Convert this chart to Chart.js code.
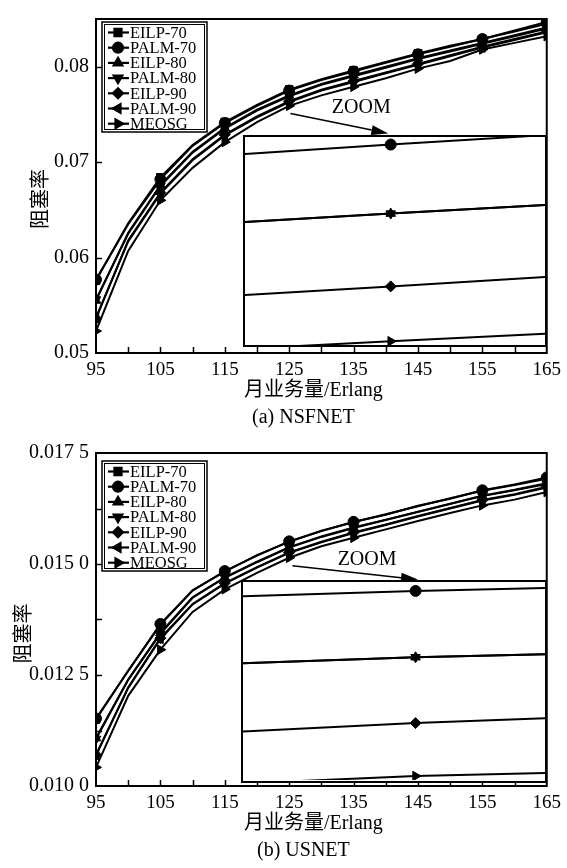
<!DOCTYPE html>
<html>
<head>
<meta charset="utf-8">
<script src="https://cdn.jsdelivr.net/npm/chart.js@4.4.1/dist/chart.umd.min.js"></script>
<style>
  body { margin: 0; background: #fff; }
  #page { position: relative; width: 567px; height: 868px; }
  .panel { position: absolute; left: 0; width: 567px; height: 434px; }
  .inset { position: absolute; border: 2px solid #000; box-sizing: border-box; background: #fff; }
  canvas { display: block; }
</style>
</head>
<body>
<div id="page">
  <div class="panel" style="top:0">
    <canvas id="nsfnet" width="567" height="434"></canvas>
    <div class="inset" id="nsfnetBox"><canvas id="nsfnetZoom"></canvas></div>
  </div>
  <div class="panel" style="top:434px">
    <canvas id="usnet" width="567" height="434"></canvas>
    <div class="inset" id="usnetBox"><canvas id="usnetZoom"></canvas></div>
  </div>
</div>
<script>
// traffic load (Erlang)
const loads = [95, 100, 105, 110, 115, 120, 125, 130, 135, 140, 145, 150, 155, 160, 165];
const markedLoadsA = [95, 105, 115, 125, 135, 145, 155, 165];
const markedLoadsB = [95, 105, 115, 125, 135, 155, 165];
const seriesNames = ['EILP-70', 'PALM-70', 'EILP-80', 'PALM-80', 'EILP-90', 'PALM-90', 'MEOSG'];

// (a) NSFNET blocking rate
const eilp70A = [0.0576, 0.0636, 0.0684, 0.0718, 0.0742, 0.0760, 0.0776, 0.0787, 0.0796, 0.0805, 0.0814, 0.0822, 0.0829, 0.0837, 0.0845];
const palm70A = [0.0577, 0.0635, 0.0682, 0.0717, 0.0741, 0.0759, 0.0775, 0.0786, 0.0795, 0.0804, 0.0813, 0.0821, 0.0829, 0.0838, 0.0847];
const eilp80A = [0.0555, 0.0626, 0.0676, 0.0711, 0.0736, 0.0755, 0.0770, 0.0782, 0.0791, 0.0800, 0.0809, 0.0817, 0.0825, 0.0833, 0.0841];
const palm80A = [0.0556, 0.0625, 0.0675, 0.0710, 0.0735, 0.0754, 0.0769, 0.0781, 0.0790, 0.0799, 0.0808, 0.0816, 0.0824, 0.0832, 0.0840];
const eilp90A = [0.0536, 0.0618, 0.0668, 0.0703, 0.0729, 0.0748, 0.0764, 0.0776, 0.0785, 0.0794, 0.0803, 0.0812, 0.0821, 0.0829, 0.0837];
const palm90A = [0.0537, 0.0617, 0.0667, 0.0702, 0.0728, 0.0747, 0.0763, 0.0775, 0.0784, 0.0793, 0.0802, 0.0811, 0.0820, 0.0828, 0.0836];
const meosgA  = [0.0523, 0.0607, 0.0660, 0.0694, 0.0721, 0.0742, 0.0759, 0.0770, 0.0779, 0.0788, 0.0798, 0.0806, 0.0818, 0.0825, 0.0832];

// (b) USNET blocking rate
const eilp70B = [0.01150, 0.01260, 0.01363, 0.01441, 0.01483, 0.01520, 0.01550, 0.01575, 0.01594, 0.01612, 0.01630, 0.01648, 0.01665, 0.01678, 0.01692];
const palm70B = [0.01152, 0.01259, 0.01365, 0.01440, 0.01484, 0.01519, 0.01551, 0.01574, 0.01595, 0.01611, 0.01631, 0.01647, 0.01666, 0.01679, 0.01695];
const eilp80B = [0.01108, 0.01240, 0.01345, 0.01425, 0.01470, 0.01505, 0.01538, 0.01562, 0.01582, 0.01600, 0.01618, 0.01636, 0.01654, 0.01667, 0.01682];
const palm80B = [0.01106, 0.01239, 0.01343, 0.01424, 0.01469, 0.01504, 0.01537, 0.01561, 0.01581, 0.01599, 0.01617, 0.01635, 0.01653, 0.01666, 0.01680];
const eilp90B = [0.01070, 0.01222, 0.01333, 0.01410, 0.01457, 0.01493, 0.01526, 0.01550, 0.01571, 0.01589, 0.01608, 0.01626, 0.01644, 0.01657, 0.01674];
const palm90B = [0.01069, 0.01221, 0.01331, 0.01409, 0.01456, 0.01492, 0.01525, 0.01549, 0.01570, 0.01588, 0.01607, 0.01625, 0.01643, 0.01656, 0.01672];
const meosgB  = [0.01042, 0.01203, 0.01307, 0.01392, 0.01443, 0.01480, 0.01514, 0.01540, 0.01559, 0.01578, 0.01597, 0.01615, 0.01632, 0.01645, 0.01662];

// zoomed insets (load, blocking rate)
const zoomLoadsA = [125, 142, 160];
const zoom70A = [0.08062, 0.08072, 0.08082];
const zoom80A = [0.07990, 0.07999, 0.08008];
const zoom90A = [0.07913, 0.07922, 0.07932];
const zoomMeA = [0.07856, 0.07864, 0.07872];
const zoomLoadsB = [125, 145, 160];
const zoom70B = [0.016371, 0.016382, 0.016388];
const zoom80B = [0.016236, 0.016248, 0.016254];
const zoom90B = [0.016098, 0.016115, 0.016125];
const zoomMeB = [0.015993, 0.016008, 0.016014];

Chart.defaults.font.family = "'Liberation Serif', 'Noto Sans CJK SC', serif";
Chart.defaults.color = '#000';

const markers = [
  { pointStyle: 'rect', pointRotation: 0 },
  { pointStyle: 'circle', pointRotation: 0 },
  { pointStyle: 'triangle', pointRotation: 0 },
  { pointStyle: 'triangle', pointRotation: 180 },
  { pointStyle: 'rectRot', pointRotation: 0 },
  { pointStyle: 'triangle', pointRotation: 270 },
  { pointStyle: 'triangle', pointRotation: 90 }
];

function toPoints(xs, ys) {
  return xs.map((x, i) => ({ x: x, y: ys[i] }));
}

// frame with inward ticks
const frameTicks = {
  id: 'frameTicks',
  afterDraw(chart) {
    const { ctx, chartArea: a, scales: { x, y } } = chart;
    ctx.save();
    ctx.strokeStyle = '#000';
    ctx.lineWidth = 2;
    ctx.strokeRect(a.left, a.top, a.width, a.height);
    ctx.lineWidth = 1.5;
    ctx.beginPath();
    x.ticks.forEach(t => {
      if (t.value <= x.min || t.value >= x.max) return;
      const px = Math.round(x.getPixelForValue(t.value)) + 0.5;
      ctx.moveTo(px, a.bottom);
      ctx.lineTo(px, a.bottom - 6);
    });
    y.ticks.forEach(t => {
      if (t.value <= y.min || t.value >= y.max) return;
      const py = Math.round(y.getPixelForValue(t.value)) + 0.5;
      ctx.moveTo(a.left, py);
      ctx.lineTo(a.left + 6, py);
    });
    ctx.stroke();
    ctx.restore();
  }
};

// boxed legend in the upper left corner
const boxLegend = {
  id: 'boxLegend',
  afterDraw(chart, args, o) {
    const { ctx, chartArea: a } = chart;
    const left = 102, top = a.top + o.offset, w = 105, h = 110;
    ctx.save();
    ctx.fillStyle = '#fff';
    ctx.fillRect(left, top, w, h);
    ctx.strokeStyle = '#000';
    ctx.lineWidth = 1.5;
    ctx.strokeRect(left, top, w, h);
    ctx.lineWidth = 1;
    ctx.strokeRect(left + 2.5, top + 2.5, w - 5, h - 5);
    ctx.font = '16.5px "Liberation Serif"';
    ctx.textBaseline = 'middle';
    chart.data.datasets.forEach((ds, i) => {
      const cy = top + 10.5 + i * 15.2;
      ctx.lineWidth = 2.2;
      ctx.beginPath();
      ctx.moveTo(left + 6, cy);
      ctx.lineTo(left + 27, cy);
      ctx.stroke();
      ctx.fillStyle = '#000';
      Chart.helpers.drawPoint(ctx, {
        pointStyle: ds.pointStyle, rotation: ds.pointRotation, radius: 5, borderWidth: 1
      }, left + 16, cy);
      ctx.fillText(ds.label, left + 28, cy + 1);
    });
    ctx.restore();
  }
};

// axis titles and caption
const figureText = {
  id: 'figureText',
  afterDraw(chart, args, o) {
    const { ctx, chartArea: a } = chart;
    const mid = (a.left + a.right) / 2;
    ctx.save();
    ctx.fillStyle = '#000';
    ctx.textAlign = 'center';
    ctx.textBaseline = 'middle';
    ctx.font = "20px 'Liberation Serif', 'Noto Sans CJK SC'";
    ctx.fillText(o.xTitle, mid - 8, a.bottom + 38);
    ctx.fillText(o.caption, mid - 18, a.bottom + 65);
    ctx.translate(o.yTitleX, (a.top + a.bottom) / 2 + o.yShift);
    ctx.rotate(-Math.PI / 2);
    ctx.font = "20px 'Noto Sans CJK SC'";
    ctx.fillText(o.yTitle, 0, 0);
    ctx.restore();
  }
};

// "ZOOM" arrow
const zoomNote = {
  id: 'zoomNote',
  afterDatasetsDraw(chart, args, o) {
    const { ctx, scales: { x, y } } = chart;
    const x0 = x.getPixelForValue(o.from[0]), y0 = y.getPixelForValue(o.from[1]);
    const x1 = x.getPixelForValue(o.to[0]), y1 = y.getPixelForValue(o.to[1]);
    const ang = Math.atan2(y1 - y0, x1 - x0), head = 17, half = 5;
    const bx = x1 - head * Math.cos(ang), by = y1 - head * Math.sin(ang);
    ctx.save();
    ctx.strokeStyle = '#000';
    ctx.fillStyle = '#000';
    ctx.lineWidth = 1.5;
    ctx.beginPath();
    ctx.moveTo(x0, y0);
    ctx.lineTo(bx, by);
    ctx.stroke();
    ctx.beginPath();
    ctx.moveTo(x1, y1);
    ctx.lineTo(bx + half * Math.sin(ang), by - half * Math.cos(ang));
    ctx.lineTo(bx - half * Math.sin(ang), by + half * Math.cos(ang));
    ctx.closePath();
    ctx.fill();
    ctx.font = '20px "Liberation Serif"';
    ctx.textAlign = 'center';
    ctx.textBaseline = 'middle';
    ctx.fillText('ZOOM', x.getPixelForValue(o.at[0]), y.getPixelForValue(o.at[1]));
    ctx.restore();
  }
};

function makeChart(id, series, marked, yOpts, extra) {
  const datasets = series.map((vals, i) => ({
    label: seriesNames[i],
    data: toPoints(loads, vals),
    borderColor: '#000',
    backgroundColor: '#000',
    borderWidth: 2,
    pointStyle: markers[i].pointStyle,
    pointRotation: markers[i].pointRotation,
    pointRadius: ctx => marked.includes(loads[ctx.dataIndex]) ? 5.5 : 0,
    pointBorderWidth: 1,
    tension: 0
  }));
  return new Chart(document.getElementById(id), {
    type: 'line',
    data: { datasets: datasets },
    options: {
      responsive: false,
      animation: false,
      layout: { padding: { top: extra.padTop, right: 20, left: 0, bottom: 0 } },
      scales: {
        x: {
          type: 'linear', min: 95, max: 165,
          afterFit: s => { s.height = extra.xHeight; },
          grid: { display: false, drawTicks: false },
          border: { display: false },
          ticks: {
            stepSize: 5, autoSkip: false, maxRotation: 0, padding: 6,
            font: { size: 19 },
            callback: v => (v - 95) % 10 === 0 ? String(v) : ''
          }
        },
        y: {
          min: yOpts.min, max: yOpts.max,
          afterFit: s => { s.width = 96; },
          grid: { display: false, drawTicks: false },
          border: { display: false },
          ticks: {
            stepSize: yOpts.step, autoSkip: false, padding: 7,
            font: { size: 20 },
            callback: yOpts.format
          }
        }
      },
      plugins: {
        legend: { display: false },
        tooltip: { enabled: false },
        boxLegend: { offset: extra.legendOffset },
        figureText: {
          xTitle: '月业务量/Erlang', yTitle: '阻塞率', caption: extra.caption,
          yTitleX: extra.yTitleX, yShift: extra.yShift
        },
        zoomNote: extra.note
      }
    },
    plugins: [frameTicks, boxLegend, figureText, zoomNote]
  });
}

function makeInset(main, boxId, canvasId, box, xs, series, styleIdx, yRange) {
  const left = main.scales.x.getPixelForValue(box.x0);
  const right = main.scales.x.getPixelForValue(box.x1);
  const top = main.scales.y.getPixelForValue(box.y1);
  const bottom = main.scales.y.getPixelForValue(box.y0);
  const div = document.getElementById(boxId);
  div.style.left = left + 'px';
  div.style.top = top + 'px';
  div.style.width = (right - left) + 'px';
  div.style.height = (bottom - top) + 'px';
  const cv = document.getElementById(canvasId);
  cv.width = Math.round(right - left - 4);
  cv.height = Math.round(bottom - top - 4);
  const datasets = series.map((vals, i) => ({
    data: toPoints(xs, vals),
    borderColor: '#000',
    backgroundColor: '#000',
    borderWidth: 2,
    pointStyle: markers[styleIdx[i]].pointStyle,
    pointRotation: markers[styleIdx[i]].pointRotation,
    pointRadius: ctx => ctx.dataIndex === 1 ? 5.5 : 0,
    pointBorderWidth: 1
  }));
  return new Chart(cv, {
    type: 'line',
    data: { datasets: datasets },
    options: {
      responsive: false,
      animation: false,
      layout: { padding: 0 },
      scales: {
        x: { type: 'linear', display: false, min: 125, max: 160 },
        y: { display: false, min: yRange[0], max: yRange[1] }
      },
      plugins: { legend: { display: false }, tooltip: { enabled: false } }
    }
  });
}

const chartA = makeChart('nsfnet',
  [eilp70A, palm70A, eilp80A, palm80A, eilp90A, palm90A, meosgA], markedLoadsA,
  {
    min: 0.05, max: 0.085, step: 0.01,
    format: v => Math.abs(v * 100 - Math.round(v * 100)) < 1e-6 ? v.toFixed(2) : ''
  },
  {
    padTop: 12, xHeight: 81, legendOffset: 3, yTitleX: 39, yShift: 13, caption: '(a) NSFNET',
    note: { from: [125.2, 0.0751], to: [140.4, 0.0730], at: [136.2, 0.0757] }
  });

const chartB = makeChart('usnet',
  [eilp70B, palm70B, eilp80B, palm80B, eilp90B, palm90B, meosgB], markedLoadsB,
  {
    min: 0.01, max: 0.0175, step: 0.00125,
    format: v => {
      const k = Math.round(v / 0.00125);
      if (k % 2 !== 0) return '';
      const s = v.toFixed(4);
      return s.slice(0, 5) + ' ' + s.slice(5);
    }
  },
  {
    padTop: 15, xHeight: 82, legendOffset: 8, yTitleX: 22, yShift: 14, caption: '(b) USNET',
    note: { from: [125.5, 0.01496], to: [145, 0.01465], at: [137.1, 0.0151] }
  });

makeInset(chartA, 'nsfnetBox', 'nsfnetZoom',
  { x0: 117.8, x1: 165, y0: 0.0506, y1: 0.0728 },
  zoomLoadsA, [zoom70A, zoom80A, zoom80A, zoom90A, zoomMeA], [1, 2, 3, 4, 6], [0.0786, 0.0808]);

makeInset(chartB, 'usnetBox', 'usnetZoom',
  { x0: 117.5, x1: 165, y0: 0.01007, y1: 0.01463 },
  zoomLoadsB, [zoom70B, zoom80B, zoom80B, zoom90B, zoomMeB], [1, 2, 3, 4, 6], [0.0160, 0.0164]);
</script>
</body>
</html>
